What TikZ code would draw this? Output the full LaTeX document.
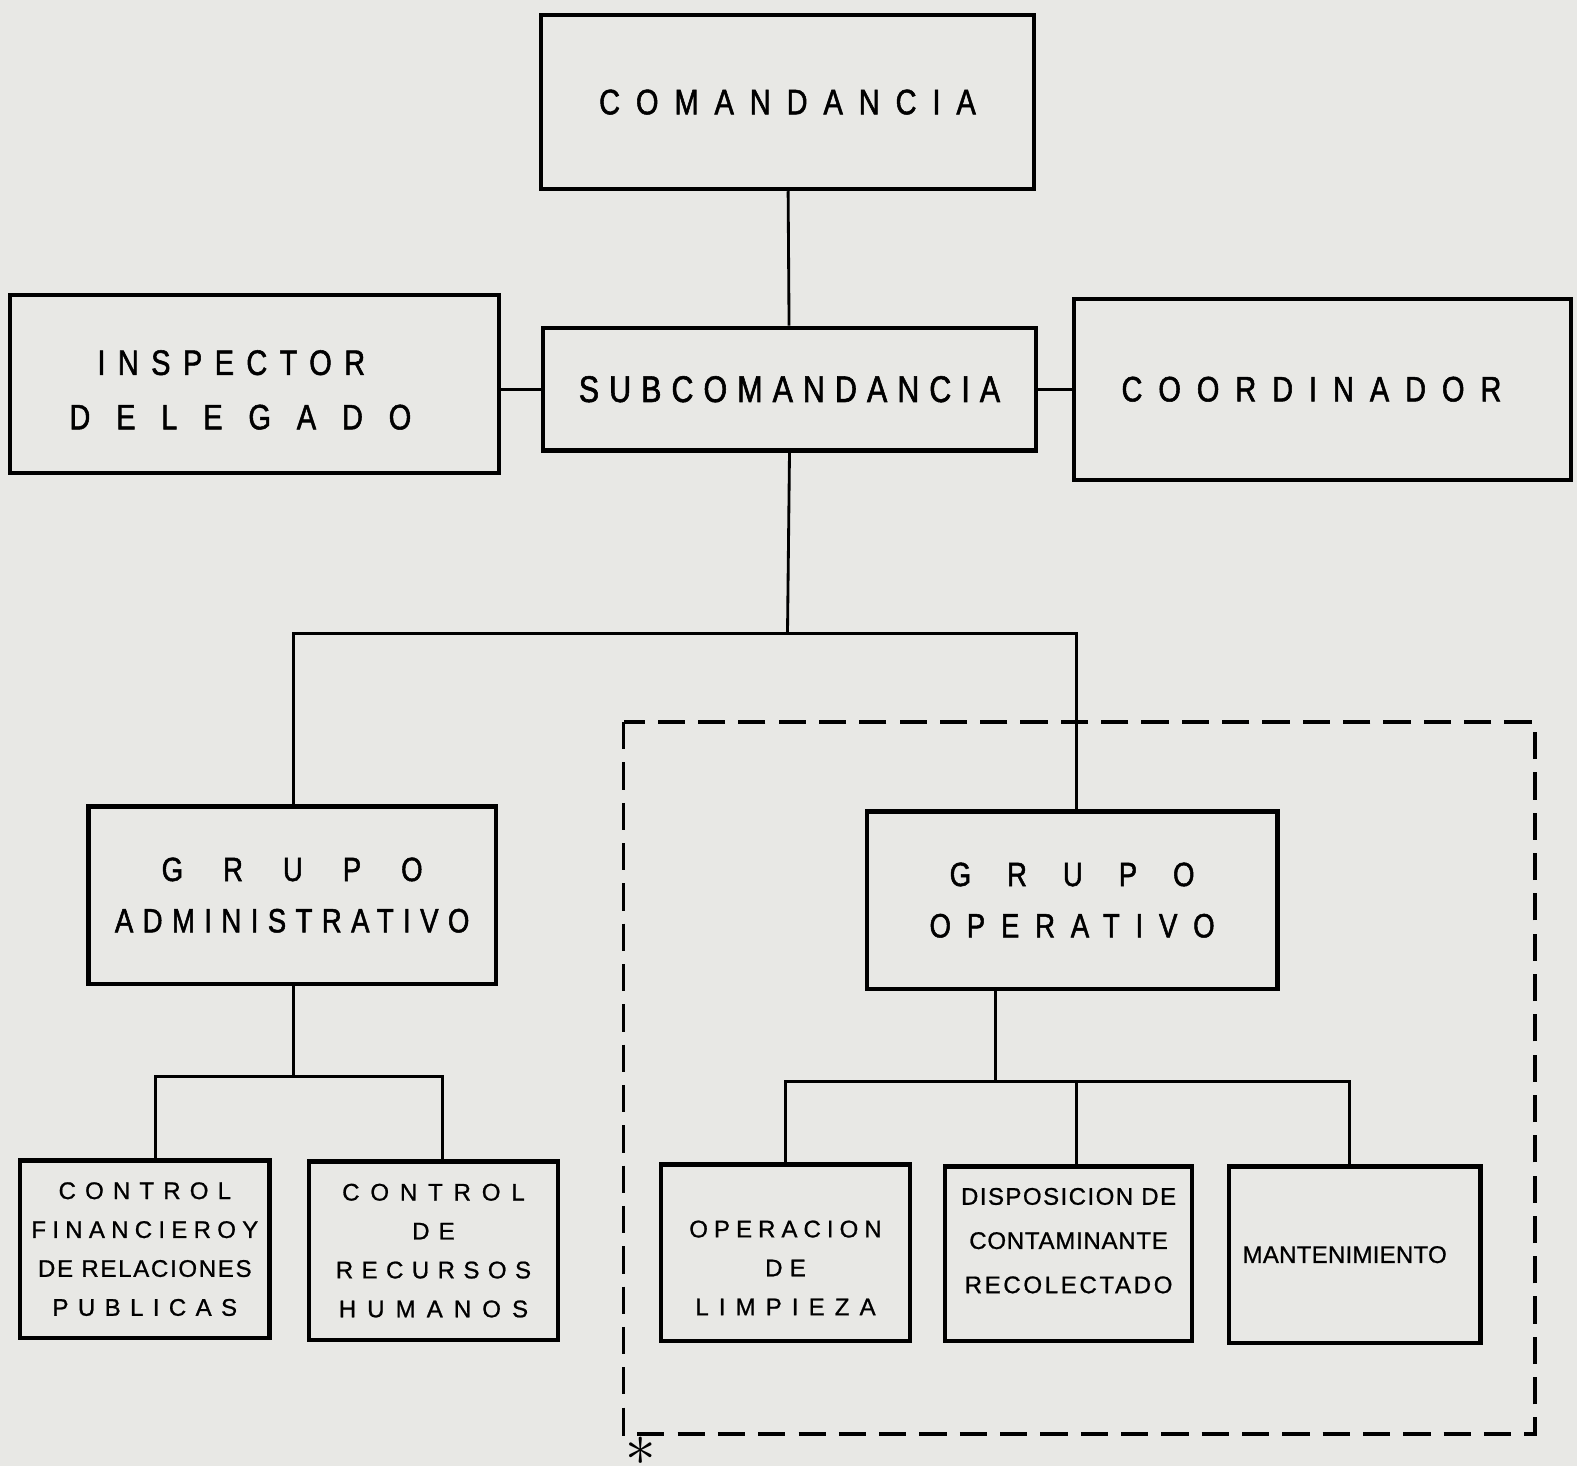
\documentclass[tikz,border=0pt]{standalone}
\usepackage{fontspec}
\usepackage{tikz}
\newfontfamily\chartfont[FakeStretch=0.82, FakeBold=1.5]{Liberation Sans}
\newfontfamily\unitfont[FakeBold=0.9]{Liberation Sans}
\definecolor{papercolor}{RGB}{232,232,229}
\newcommand{\trk}[2]{{\addfontfeature{LetterSpace=#1}#2}}

\begin{document}
\begin{tikzpicture}[x=0.01cm, y=-0.01cm,
  box/.style={draw, line width=1.2pt, inner sep=0pt, align=center},
  big/.style={font=\chartfont\fontsize{10}{15.4}\selectfont},
  grp/.style={font=\chartfont\fontsize{9.5}{14.5}\selectfont},
  small/.style={font=\unitfont\fontsize{6.8}{11}\selectfont},
  link/.style={line width=0.8pt}]
  % paper
  \fill[papercolor] (0,0) rectangle (1568,1458);
  \useasboundingbox (0,0) rectangle (1568,1458);
  % top
  \node[box, big, minimum width=4.9cm, minimum height=1.73cm] (coman) at (783,101.5) {\trk{45}{COMANDANCIA}};
  \node[box, big, font=\chartfont\fontsize{10.5}{15}\selectfont, minimum width=4.9cm, minimum height=1.22cm] (sub) at (785,387) {\trk{27}{SUBCOMANDANCIA}};
  \node[box, big, minimum width=4.86cm, minimum height=1.77cm] (insp) at (253,381.5) {\rule{0pt}{0.37cm}\trk{35}{INSPECTOR}\rule{0.46cm}{0pt}\\ \trk{73}{DELEGADO}\rule{0.28cm}{0pt}};
  \node[box, big, minimum width=4.94cm, minimum height=1.8cm] (coord) at (1315,387) {\trk{45}{COORDINADOR}\rule{0.22cm}{0pt}};
  % groups
  \node[box, grp, minimum width=4.05cm, minimum height=1.76cm] (gadm) at (290.5,890) {\trk{119}{GRUPO}\\ \trk{28}{ADMINISTRATIVO}};
  \node[box, grp, minimum width=4.08cm, minimum height=1.76cm] (gop) at (1066,895) {\trk{107}{GRUPO}\\ \trk{47}{OPERATIVO}};
  % admin units
  \node[box, small, minimum width=2.48cm, minimum height=1.76cm] (cfin) at (144,1242) {\trk{38}{CONTROL}\\ \trk{26}{FINANCIEROY}\\ \trk{7}{DE RELACIONES}\\ \trk{39}{PUBLICAS}};
  \node[box, small, minimum width=2.48cm, minimum height=1.77cm] (crh) at (431,1243.5) {\trk{45}{CONTROL}\\ \trk{38}{DE}\\ \trk{35}{RECURSOS}\\ \trk{46}{HUMANOS}};
  % operative units
  \node[box, small, minimum width=2.48cm, minimum height=1.75cm] (oplim) at (781,1245.5) {\rule{0pt}{0.47cm}\trk{25}{OPERACION}\\ \trk{30}{DE}\\ \trk{42}{LIMPIEZA}};
  \node[box, small, font=\unitfont\fontsize{6.8}{12.5}\selectfont, minimum width=2.45cm, minimum height=1.73cm] (disp) at (1062.5,1246.5) {\trk{6}{DISPOSICION DE}\\ \trk{3}{CONTAMINANTE}\\ \trk{11}{RECOLECTADO}\rule[-0.26cm]{0pt}{0.26cm}};
  \node[box, small, minimum width=2.5cm, minimum height=1.75cm] (mant) at (1347,1247.5) {\trk{1}{MANTENIMIENTO}\rule{0.2cm}{0pt}};
  % lines
  \coordinate (trunk) at (783,630);
  \coordinate (admfork) at (292,1070);
  \coordinate (opfork) at (990,1075);
  \draw[link] (coman) -- (sub);
  \draw[link] (insp.east |- sub.west) -- (sub.west);
  \draw[link] (sub.east) -- (coord.west |- sub.east);
  \draw[link] (sub.south) -- (trunk);
  \draw[link] ([xshift=0.15mm]gadm.north) |- (trunk) -| ([xshift=0.4mm]gop.north);
  \draw[link] (admfork |- gadm.south) -- (admfork);
  \draw[link] ([xshift=1.1mm]cfin.north) |- (admfork) -| ([xshift=0.9mm]crh.north);
  \draw[link] (opfork |- gop.south) -- (opfork);
  \draw[link] (oplim.north) |- (opfork) -| ([xshift=-0.5mm]mant.north);
  \draw[link] ([xshift=0.75mm]disp.north) -- ([xshift=0.75mm]disp.north |- opfork);
  % dashed frame
  \draw[line width=1pt, dash pattern=on 7.7pt off 3.7pt] (620,718) rectangle (1526,1426);
  \node[font=\fontsize{17}{17}\selectfont, inner sep=0pt] (star) at (637,1443) {$\ast$};
\end{tikzpicture}
\end{document}
